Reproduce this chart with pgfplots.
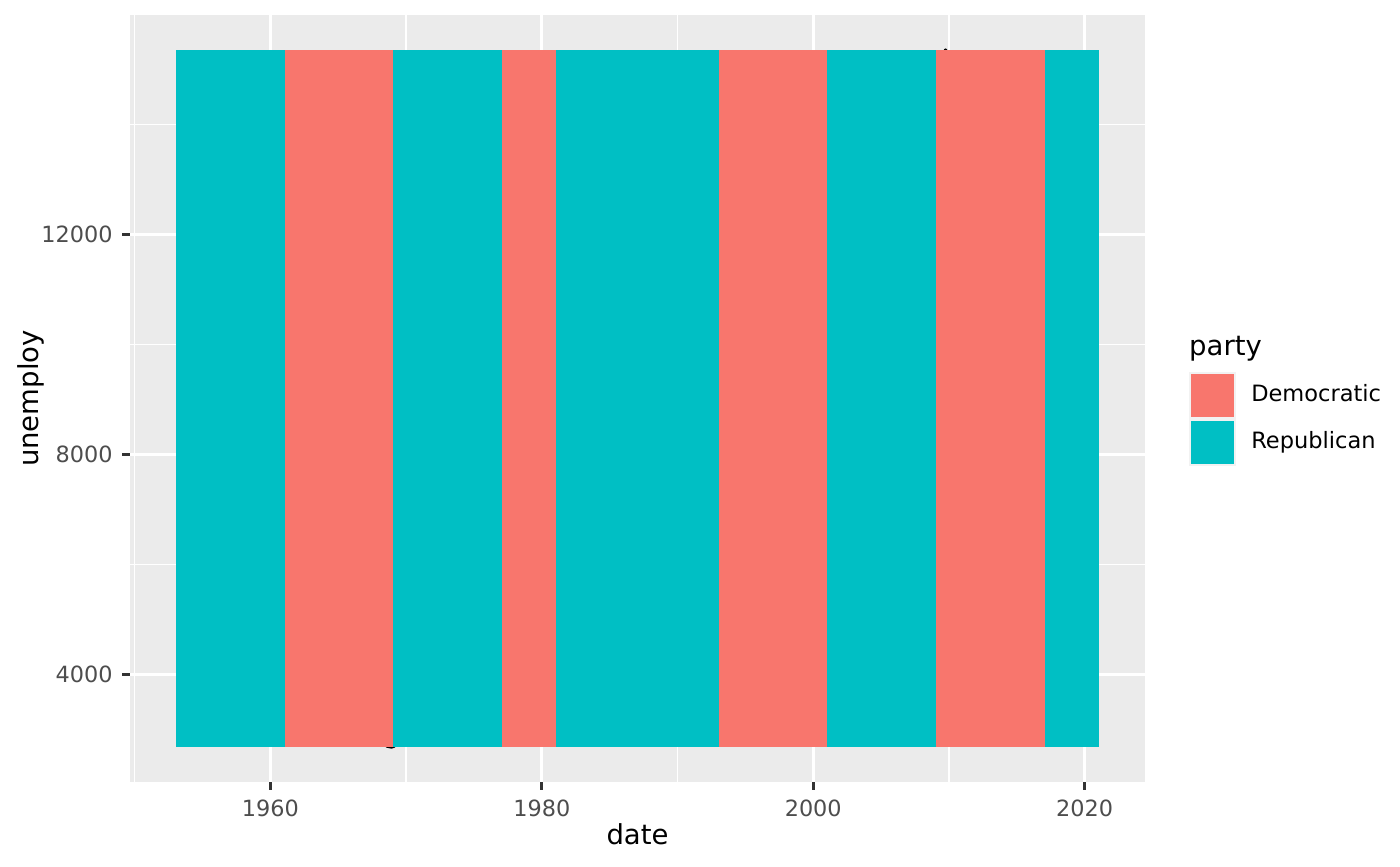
\documentclass[border=0pt]{standalone}
\usepackage{fontspec}
\setmainfont{DejaVu Sans}
\usepackage{pgfplots}
\pgfplotsset{compat=1.18}
\definecolor{dem}{HTML}{F8766D}
\definecolor{rep}{HTML}{00BFC4}
\definecolor{gray92}{HTML}{EBEBEB}
\definecolor{gray30}{HTML}{4D4D4D}
\definecolor{gray20}{HTML}{333333}
\definecolor{keybg}{HTML}{F2F2F2}
\pgfplotsset{keyimg/.style={legend image code/.code={%
  \fill[keybg] (0pt,-8.28pt) rectangle (16.56pt,8.28pt);
  \fill[#1] (0.8pt,-7.5pt) rectangle (15.76pt,7.5pt);}}}
\begin{document}
\begin{tikzpicture}
\begin{axis}[
  at={(46.8pt,30.24pt)}, anchor=south west,
  scale only axis, width=365.4pt, height=276.12pt,
  xmin=1949.65, xmax=2024.45, ymin=2051.65, ymax=15985.35,
  clip mode=individual,
  axis background/.style={fill=gray92},
  axis line style={draw=none},
  xtick={1960,1980,2000,2020}, ytick={4000,8000,12000},
  minor xtick={1950,1970,1990,2010}, minor ytick={6000,10000,14000},
  scaled x ticks=false, scaled y ticks=false,
  grid=both,
  major grid style={white, line width=1.07pt},
  minor grid style={white, line width=0.53pt},
  tick align=outside, xtick pos=bottom, ytick pos=left,
  major tick length=2.75pt, minor tick length=0pt,
  tick style={gray20, line width=1.07pt},
  ticklabel style={font=\fontsize{8.05}{9.5}\selectfont, text=gray30},
  /pgf/number format/.cd, 1000 sep={}, assume math mode=true, /pgfplots/.cd,
  label style={font=\fontsize{9.9}{12}\selectfont, text=black},
  xlabel={date}, ylabel={unemploy},
  xlabel style={at={(axis description cs:0.5,-0.0684)}, anchor=center},
  ylabel style={at={(axis description cs:-0.0975,0.5)}, anchor=center},
  legend style={at={(1.043,0.535)}, anchor=north west, draw=none, fill=none,
    inner sep=0pt, outer sep=0pt, row sep=0pt, column sep=5.6pt,
    font=\fontsize{8.1}{9.5}\selectfont, nodes={inner sep=0pt}},
  legend cell align=left,
]
\addplot[black, line width=1.07pt, line join=round, forget plot] coordinates {
(1967.50,2944)(1968.00,2900)(1968.40,2760)(1968.60,2700)(1968.92,2685)(1969.10,2700)(1969.50,2800)(1970.0,3200)
(1971,4900)(1972,5000)(1973,4400)(1974,4700)(1975,8000)(1976,7300)(1977,7000)
(1978,6100)(1979,5900)(1980,7400)(1981,8000)(1982,10400)(1983,11500)(1984,8900)
(1985,8400)(1986,8200)(1987,7600)(1988,6700)(1989,6500)(1990,6600)(1991,8400)
(1992,9300)(1993,9000)(1994,8200)(1995,7400)(1996,7200)(1997,6800)(1998,6300)
(1999,5900)(2000,5700)(2001,6000)(2002,8200)(2003,8800)(2004,8400)(2005,7900)
(2006,7100)(2007,6900)(2008,7700)(2009,11900)(2009.50,15100)(2009.65,15300)(2009.75,15352)(2009.85,15300)(2010,15000)
(2011,14000)(2012,12700)(2013,12500)(2014,10200)(2015,8600)(2015.25,8549)};
\addplot[fill=rep, draw=none, forget plot] coordinates {(1953.05,2685)(1961.05,2685)(1961.05,15352)(1953.05,15352)} -- cycle;
\addplot[fill=dem, draw=none, forget plot] coordinates {(1961.05,2685)(1969.05,2685)(1969.05,15352)(1961.05,15352)} -- cycle;
\addplot[fill=rep, draw=none, forget plot] coordinates {(1969.05,2685)(1977.05,2685)(1977.05,15352)(1969.05,15352)} -- cycle;
\addplot[fill=dem, draw=none, forget plot] coordinates {(1977.05,2685)(1981.05,2685)(1981.05,15352)(1977.05,15352)} -- cycle;
\addplot[fill=rep, draw=none, forget plot] coordinates {(1981.05,2685)(1993.05,2685)(1993.05,15352)(1981.05,15352)} -- cycle;
\addplot[fill=dem, draw=none, forget plot] coordinates {(1993.05,2685)(2001.05,2685)(2001.05,15352)(1993.05,15352)} -- cycle;
\addplot[fill=rep, draw=none, forget plot] coordinates {(2001.05,2685)(2009.05,2685)(2009.05,15352)(2001.05,15352)} -- cycle;
\addplot[fill=dem, draw=none, forget plot] coordinates {(2009.05,2685)(2017.05,2685)(2017.05,15352)(2009.05,15352)} -- cycle;
\addplot[fill=rep, draw=none, forget plot] coordinates {(2017.05,2685)(2021.05,2685)(2021.05,15352)(2017.05,15352)} -- cycle;
\addlegendimage{keyimg=dem}
\addlegendentry{Democratic}
\addlegendimage{keyimg=rep}
\addlegendentry{Republican}
\node[anchor=base west, font=\fontsize{9.9}{12}\selectfont, inner sep=0pt] at (rel axis cs:1.043,0.556) {party};
\end{axis}
\pgfresetboundingbox
\useasboundingbox (0,0) rectangle (504pt,311.76pt);
\end{tikzpicture}
\end{document}
